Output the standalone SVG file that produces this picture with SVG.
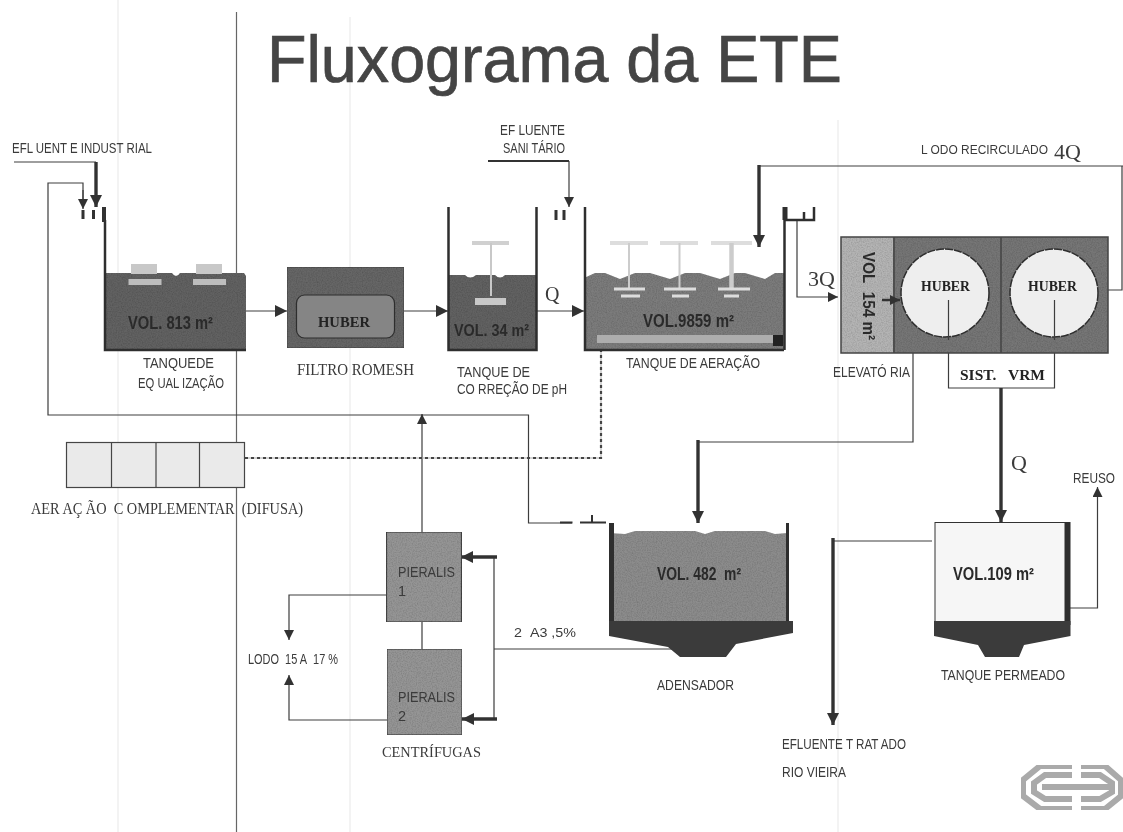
<svg xmlns="http://www.w3.org/2000/svg" width="1123" height="832" viewBox="0 0 1123 832">
<style>
text{font-family:"Liberation Sans",Arial,sans-serif;fill:#3a3a3a;font-size:14.5px}
.serif{font-family:"Liberation Serif","Times New Roman",serif}
.b{font-weight:bold;fill:#222}
.vol{font-weight:bold;font-size:17.5px;fill:#2a2a2a}
.l{fill:none;stroke:#3c3c3c;stroke-width:1.2}
.t{fill:none;stroke:#333;stroke-width:3.4}
.w{fill:none;stroke:#333;stroke-width:3}
</style>
<defs>
<marker id="a" markerUnits="userSpaceOnUse" markerWidth="12" markerHeight="12" refX="10" refY="5" orient="auto"><path d="M0 0L10 5L0 10z" fill="#333"/></marker>
<marker id="at" markerUnits="userSpaceOnUse" markerWidth="14" markerHeight="14" refX="12" refY="6" orient="auto"><path d="M0 0L12 6L0 12z" fill="#333"/></marker>
<filter id="g" x="0" y="0" width="100%" height="100%"><feTurbulence type="fractalNoise" baseFrequency="0.8" numOctaves="2" seed="3" result="n"/><feColorMatrix in="n" type="matrix" values="0 0 0 0 0 0 0 0 0 0 0 0 0 0 0 0.55 0 0 0 -0.2" result="m"/><feComposite in="m" in2="SourceAlpha" operator="in" result="c"/><feMerge><feMergeNode in="SourceGraphic"/><feMergeNode in="c"/></feMerge></filter>
<filter id="s" x="-2%" y="-2%" width="104%" height="104%"><feGaussianBlur stdDeviation="0.4"/></filter>
</defs>
<rect width="1123" height="832" fill="#fff"/>
<g id="page-lines">
<path d="M118 0V832M350 17V832M838 120V832" fill="none" stroke="#f0f0f0" stroke-width="1.500"/>
<path d="M236.500 12V832" fill="none" stroke="#666" stroke-width="1.200"/>
</g>
<text id="title" x="267" y="82" textLength="575" lengthAdjust="spacingAndGlyphs" filter="url(#s)" style="font-size:66px;fill:#444;stroke:#444;stroke-width:0.7">Fluxograma da ETE</text>
<g id="connectors" filter="url(#s)">
<path class="l" d="M14 162H96"/>
<path class="t" d="M96 162V207" marker-end="url(#at)"/>
<path class="l" d="M83 203V183H48V415H528.500V523H572"/>
<path class="l" d="M83 190V209" marker-end="url(#a)"/>
<path class="l" d="M422 532V414" marker-end="url(#a)"/>
<path d="M245 458H601V335" fill="none" stroke="#aaa" stroke-width="1"/>
<path d="M245 458H601V335" fill="none" stroke="#444" stroke-width="2.200" stroke-dasharray="3 3"/>
<path class="l" d="M246 311H287" marker-end="url(#at)"/>
<path class="l" d="M404 311H448" marker-end="url(#at)"/>
<path class="l" d="M537 311H584" marker-end="url(#at)"/>
<path class="t" style="stroke-width:2" d="M488 161H569"/>
<path class="l" d="M569 161V207" marker-end="url(#a)"/>
<path class="l" d="M1123 166H759"/>
<path class="t" d="M759 165V247" marker-end="url(#at)"/>
<path class="l" d="M1122 166V290H1108"/>
<path class="l" d="M797 220V297H838" marker-end="url(#a)"/>
<path class="l" d="M948.500 340V388H1054.500V340"/>
<path class="t" d="M1001 388V522" marker-end="url(#at)"/>
<path class="l" d="M913 353V442H698"/>
<path class="t" d="M698 440V523" marker-end="url(#at)"/>
<path class="l" d="M932 541H833"/>
<path class="t" d="M833 538V725" marker-end="url(#at)"/>
<path class="l" d="M1070 608H1097.500V487" marker-end="url(#a)"/>
<path class="l" d="M494 557V719M494 649H672"/>
<path class="t" d="M497 557H461" marker-end="url(#at)"/>
<path class="t" d="M497 719H462" marker-end="url(#at)"/>
<path class="l" d="M386 595H289V640" marker-end="url(#a)"/>
<path class="l" d="M387 720H289V675" marker-end="url(#a)"/>
<path class="l" d="M422 622V649"/>
</g>
<g id="tanque-equalizacao" filter="url(#s)">
<path d="M106 273H172Q176 279 180 273H244L246 276V350H104V273z" fill="#626262" filter="url(#g)"/>
<path d="M105 220V350H246" fill="none" stroke="#2e2e2e" stroke-width="2.500"/>
<path class="w" d="M104 207V222" style="stroke-width:4"/>
<path class="w" d="M93.500 210V219M83 210V219"/>
<rect x="131" y="264" width="26" height="10" fill="#c8c8c8"/><rect x="196" y="264" width="26" height="10" fill="#c8c8c8"/>
<rect x="128.500" y="279" width="33" height="6" fill="#bdbdbd"/><rect x="193" y="279" width="33" height="6" fill="#bdbdbd"/>
<text class="vol" x="128" y="329" textLength="85" lengthAdjust="spacingAndGlyphs">VOL. 813 m²</text>
<text x="143" y="368" textLength="71" lengthAdjust="spacingAndGlyphs">TANQUEDE</text>
<text x="138" y="388" textLength="86" lengthAdjust="spacingAndGlyphs">EQ UAL IZAÇÃO</text>
</g>
<g id="filtro-romesh" filter="url(#s)">
<rect x="287" y="267" width="117" height="81" fill="#666" filter="url(#g)" stroke="#444"/>
<rect x="296.500" y="295" width="98" height="43" rx="8" fill="#858585" stroke="#2e2e2e" stroke-width="1.200"/>
<text class="serif b" x="318" y="327" textLength="52" lengthAdjust="spacingAndGlyphs" style="font-size:15px">HUBER</text>
<text class="serif" x="297" y="375" textLength="117" lengthAdjust="spacingAndGlyphs" style="font-size:16px">FILTRO ROMESH</text>
</g>
<g id="tanque-ph" filter="url(#s)">
<path d="M448 275H465Q470 280 476 275H495Q500 280 505 275H537V350H448z" fill="#626262" filter="url(#g)"/>
<path d="M448.500 207V350H536.500V207" fill="none" stroke="#2e2e2e" stroke-width="2.500"/>
<path d="M472 243H509" stroke="#d0d0d0" stroke-width="4"/>
<path d="M491 243V296" stroke="#c8c8c8" stroke-width="2"/>
<rect x="475" y="298" width="31" height="7" fill="#c8c8c8"/>
<path class="w" d="M556 210V220M564 210V220"/>
<text class="vol" x="454" y="336" textLength="75" lengthAdjust="spacingAndGlyphs" style="font-size:17px">VOL. 34 m²</text>
<text x="457" y="377" textLength="73" lengthAdjust="spacingAndGlyphs">TANQUE DE</text>
<text x="457" y="394" textLength="110" lengthAdjust="spacingAndGlyphs">CO RREÇÃO DE pH</text>
<text class="serif" x="545" y="301" style="font-size:20px">Q</text>
</g>
<g id="tanque-aeracao" filter="url(#s)">
<path d="M584 278L595 273H605L620 279L635 273H650L670 279L685 273H700L720 279L735 273H745L765 279L775 273H785V350H584z" fill="#7c7c7c" filter="url(#g)"/>
<rect x="597" y="335" width="178" height="8" fill="#adadad"/>
<rect x="773" y="335" width="10" height="11" fill="#222"/>
<path d="M585 207V350H784" fill="none" stroke="#2e2e2e" stroke-width="2.500"/>
<path d="M784.500 220V350" fill="none" stroke="#2e2e2e" stroke-width="2.500"/>
<path d="M785 207V220" fill="none" stroke="#2e2e2e" stroke-width="5"/>
<path d="M785 220H814V207M804 212V220" fill="none" stroke="#2e2e2e" stroke-width="2.500"/>
<path d="M610 243H648M660 243H698M711 243H752" stroke="#ddd" stroke-width="4"/>
<path d="M629 243V288M679.500 243V288" stroke="#ccc" stroke-width="2"/>
<path d="M731.500 243V288" stroke="#ccc" stroke-width="4.500"/>
<path d="M614 289H645M664 289H696M718 289H750M621 296H640M672 296H689M724 296H739" stroke="#ddd" stroke-width="3"/>
<text class="vol" x="643" y="327" textLength="91" lengthAdjust="spacingAndGlyphs">VOL.9859 m²</text>
<text x="626" y="368" textLength="134" lengthAdjust="spacingAndGlyphs">TANQUE DE AERAÇÃO</text>
<text class="serif" x="808" y="286" style="font-size:22px">3Q</text>
</g>
<g id="elevatoria" filter="url(#s)">
<rect x="841" y="237" width="52" height="116" fill="#b4b4b4" filter="url(#g)"/>
<rect x="893" y="237" width="108" height="116" fill="#767676" filter="url(#g)"/>
<rect x="1001" y="237" width="107" height="116" fill="#767676" filter="url(#g)"/>
<path d="M841 237H1108V353H841zM894 237V353M1001 237V353" fill="none" stroke="#444" stroke-width="1.500"/>
<circle cx="945" cy="293" r="44" fill="#eee" stroke="#2e2e2e" stroke-width="1.500" stroke-dasharray="8 1"/>
<circle cx="1054" cy="293" r="44" fill="#eee" stroke="#2e2e2e" stroke-width="1.500" stroke-dasharray="8 1"/>
<path class="l" d="M948.500 300V340M1054.500 300V340"/>
<path class="t" style="stroke-width:2.500" d="M882 300H900" marker-end="url(#a)"/>
<text class="serif b" x="921" y="291" textLength="49" lengthAdjust="spacingAndGlyphs" style="font-size:15px">HUBER</text>
<text class="serif b" x="1028" y="291" textLength="49" lengthAdjust="spacingAndGlyphs" style="font-size:15px">HUBER</text>
<text class="vol" transform="translate(863 252) rotate(90)" textLength="88" lengthAdjust="spacingAndGlyphs" style="font-size:16px">VOL&#160;&#160;154 m²</text>
<text x="833" y="377" textLength="77" lengthAdjust="spacingAndGlyphs">ELEVATÓ RIA</text>
<text class="serif b" x="960" y="380" textLength="85" lengthAdjust="spacingAndGlyphs" style="font-size:15px">SIST.&#160;&#160;&#160;VRM</text>
</g>
<g id="labels-top" filter="url(#s)">
<text x="12" y="153" textLength="140" lengthAdjust="spacingAndGlyphs">EFL UENT E INDUST RIAL</text>
<text x="500" y="135" textLength="65" lengthAdjust="spacingAndGlyphs">EF LUENTE</text>
<text x="503" y="153" textLength="62" lengthAdjust="spacingAndGlyphs">SANI TÁRIO</text>
<text x="921" y="154" textLength="127" lengthAdjust="spacingAndGlyphs" style="font-size:12.500px">L ODO RECIRCULADO</text>
<text class="serif" x="1054" y="159" style="font-size:22px">4Q</text>
</g>
<g id="aeracao-complementar" filter="url(#s)">
<rect x="66.500" y="442.500" width="178" height="45" fill="#eaeaea" stroke="#444" stroke-width="1.200"/>
<path d="M111.500 442V487M156 442V487M199.500 442V487" stroke="#444" stroke-width="1.200"/>
<text class="serif" x="31" y="514" textLength="272" lengthAdjust="spacingAndGlyphs" style="font-size:16px">AER AÇ ÃO&#160;&#160;C OMPLEMENTAR&#160;&#160;(DIFUSA)</text>
</g>
<g id="pieralisi-1" filter="url(#s)">
<rect x="386.500" y="532" width="75" height="90" fill="#959595" filter="url(#g)" stroke="#444" stroke-width="1.200"/>
<text x="398" y="577" textLength="57" lengthAdjust="spacingAndGlyphs">PIERALIS</text>
<text x="398" y="596">1</text>
</g>
<g id="pieralisi-2" filter="url(#s)">
<rect x="387" y="649" width="75" height="86" fill="#959595" filter="url(#g)" stroke="#444" stroke-width="1.200"/>
<text x="398" y="702" textLength="57" lengthAdjust="spacingAndGlyphs">PIERALIS</text>
<text x="398" y="721">2</text>
</g>
<g id="labels-lower" filter="url(#s)">
<text class="serif" x="382" y="757" textLength="99" lengthAdjust="spacingAndGlyphs" style="font-size:15px">CENTRÍFUGAS</text>
<text x="248" y="664" textLength="90" lengthAdjust="spacingAndGlyphs">LODO&#160;&#160;15 A&#160;&#160;17 %</text>
<text x="514" y="637" textLength="62" lengthAdjust="spacingAndGlyphs" style="font-size:13.500px">2&#160;&#160;A3 ,5%</text>
<text x="782" y="749" textLength="124" lengthAdjust="spacingAndGlyphs">EFLUENTE&#160;T RAT ADO</text>
<text x="782" y="777" textLength="64" lengthAdjust="spacingAndGlyphs">RIO VIEIRA</text>
<text x="1073" y="483" textLength="42" lengthAdjust="spacingAndGlyphs">REUSO</text>
<text class="serif" x="1011" y="470" style="font-size:22px">Q</text>
</g>
<g id="adensador" filter="url(#s)">
<path d="M609 533L625 534L635 531H695L705 534L715 531H765L775 534L788 533V621H609z" fill="#8c8c8c" filter="url(#g)"/>
<path d="M611.500 523V621" fill="none" stroke="#2e2e2e" stroke-width="5"/>
<path d="M787.500 523V621" fill="none" stroke="#2e2e2e" stroke-width="3"/>
<path d="M609 621H793V633L736 644L726 657H680L668 647L609 636z" fill="#3a3a3a"/>
<path d="M560 522.500H572.500M580 522.500H606M592 515V522" fill="none" stroke="#333" stroke-width="2"/>
<text class="vol" x="657" y="580" textLength="84" lengthAdjust="spacingAndGlyphs">VOL. 482&#160;&#160;m²</text>
<text x="657" y="690" textLength="77" lengthAdjust="spacingAndGlyphs">ADENSADOR</text>
</g>
<g id="tanque-permeado" filter="url(#s)">
<rect x="935" y="522.500" width="132" height="99" fill="#f6f6f6" stroke="#333" stroke-width="1"/>
<path d="M1067.500 522V625" stroke="#2e2e2e" stroke-width="6"/>
<path d="M938 621H1070.500V636L1024 645L1019 657H985L978 645L934 636V621z" fill="#3a3a3a"/>
<text class="vol" x="953" y="580" textLength="81" lengthAdjust="spacingAndGlyphs">VOL.109 m²</text>
<text x="941" y="680" textLength="124" lengthAdjust="spacingAndGlyphs">TANQUE PERMEADO</text>
</g>
<g id="logo" fill="none" stroke="#aaa" stroke-width="6" filter="url(#s)">
<path d="M1072 766H1040L1023 780V796L1040 809H1072"/>
<path d="M1072 775H1045L1034 783V792L1045 799H1072"/>
<path d="M1081 766H1105L1121 780V796L1105 809H1081"/>
<path d="M1081 775H1100L1112 783V792L1100 799H1081"/>
<path d="M1042 787H1110"/>
</g>
</svg>
